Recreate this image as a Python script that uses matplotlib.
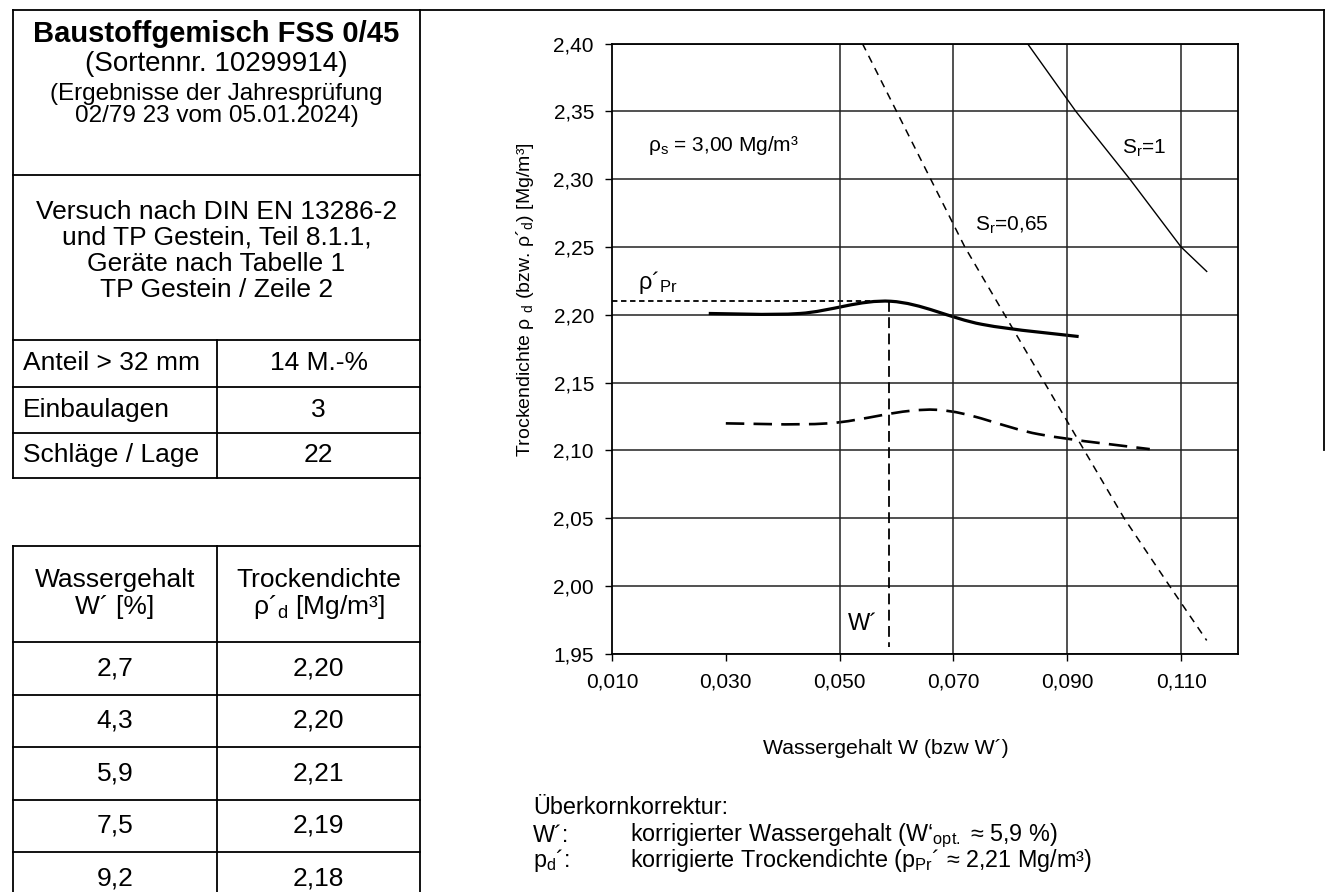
import numpy as np
import matplotlib.pyplot as plt
from matplotlib.path import Path
from matplotlib.patches import PathPatch

plt.rcParams['font.family'] = ['Liberation Sans', 'DejaVu Sans']
plt.rcParams['mathtext.fontset'] = 'custom'
plt.rcParams['mathtext.rm'] = 'Liberation Sans'
plt.rcParams['mathtext.it'] = 'Liberation Sans'

# --- data -------------------------------------------------------------
table_w = [2.7, 4.3, 5.9, 7.5, 9.2]          # W' [%]
table_rho = [2.20, 2.20, 2.21, 2.19, 2.18]   # rho'd [Mg/m3]

info_rows = ["Anteil > 32 mm", "Einbaulagen", "Schläge / Lage"]
info_vals = ["14 M.-%", "3", "22"]

# corrected curve (W', rho'd)
w_corr = [0.027, 0.043, 0.059, 0.075, 0.092]
rho_corr = [2.201, 2.201, 2.210, 2.193, 2.184]

# uncorrected curve (W, rho_d)
w_raw = [0.030, 0.048, 0.067, 0.085, 0.1045]
rho_raw = [2.120, 2.120, 2.130, 2.112, 2.101]

# saturation lines
w_sr1 = [0.083, 0.0915, 0.101, 0.110, 0.1145]
rho_sr1 = [2.400, 2.350, 2.300, 2.250, 2.232]
w_sr065 = [0.054, 0.060, 0.066, 0.072, 0.079, 0.086, 0.093, 0.100, 0.108, 0.1145]
rho_sr065 = [2.40, 2.35, 2.30, 2.25, 2.20, 2.15, 2.10, 2.05, 2.00, 1.96]

w_opt = 0.0587
rho_pr = 2.21

x_ticks = [0.010, 0.030, 0.050, 0.070, 0.090, 0.110]
x_grid = [0.050, 0.070, 0.090, 0.110]
y_ticks = [1.95, 2.00, 2.05, 2.10, 2.15, 2.20, 2.25, 2.30, 2.35, 2.40]


def comma(v, nd):
    return f"{v:.{nd}f}".replace('.', ',')


def smooth_path(x, y):
    """Bezier path through the points, like a smoothed spreadsheet line."""
    pts = np.column_stack([x, y])
    verts = [pts[0]]
    codes = [Path.MOVETO]
    n = len(pts)
    for i in range(n - 1):
        p0 = pts[i - 1] if i > 0 else pts[i]
        p1 = pts[i]
        p2 = pts[i + 1]
        p3 = pts[i + 2] if i + 2 < n else pts[i + 1]
        verts += [p1 + (p2 - p0) / 6, p2 - (p3 - p1) / 6, p2]
        codes += [Path.CURVE4] * 3
    return Path(verts, codes)


W, H = 1325, 892
fig = plt.figure(figsize=(W / 100, H / 100), dpi=100)

# --- background layer in pixel coordinates ----------------------------
bg = fig.add_axes([0, 0, 1, 1])
bg.set_xlim(0, W)
bg.set_ylim(H, 0)
bg.axis('off')

lk = dict(color='black', lw=1.3)
L, R, C = 13, 420, 217
MID = (L + R) / 2
bg.plot([L, 1324], [10, 10], **lk)
bg.plot([1324, 1324], [10, 450], **lk)
bg.plot([R, R], [10, H], **lk)
bg.plot([L, L], [10, 478], **lk)
for yy in [175, 340, 387, 433, 478]:
    bg.plot([L, R], [yy, yy], **lk)
bg.plot([C, C], [340, 478], **lk)

bg.text(MID, 34, "Baustoffgemisch FSS 0/45", ha='center', va='center',
        fontsize=21, fontweight='bold')
bg.text(MID, 64, "(Sortennr. 10299914)", ha='center', va='center', fontsize=20)
bg.text(MID, 94, "(Ergebnisse der Jahresprüfung", ha='center', va='center', fontsize=17.5)
bg.text(MID, 116, "02/79 23 vom 05.01.2024)", ha='center', va='center', fontsize=17.5)
for yy, line in zip([212, 238, 264, 290],
                    ["Versuch nach DIN EN 13286-2", "und TP Gestein, Teil 8.1.1,",
                     "Geräte nach Tabelle 1", "TP Gestein / Zeile 2"]):
    bg.text(MID, yy, line, ha='center', va='center', fontsize=19)
row_y = [363, 410, 455]
for yy, lab, val in zip(row_y, info_rows, info_vals):
    bg.text(L + 10, yy, lab, ha='left', va='center', fontsize=19)
    bg.text((C + R) / 2, yy, val, ha='center', va='center', fontsize=19)

# lower table
t_top, t_head = 546, 642
row_h = 52.5
bg.plot([L, L], [t_top, H], **lk)
bg.plot([C, C], [t_top, H], **lk)
bg.plot([L, R], [t_top, t_top], **lk)
bg.plot([L, R], [t_head, t_head], **lk)
for i in range(1, len(table_w)):
    yy = t_head + i * row_h
    bg.plot([L, R], [yy, yy], **lk)
bg.text((L + C) / 2, 580, "Wassergehalt", ha='center', va='center', fontsize=19)
bg.text((L + C) / 2, 607, "W´ [%]", ha='center', va='center', fontsize=19)
bg.text((C + R) / 2, 580, "Trockendichte", ha='center', va='center', fontsize=19)
bg.text((C + R) / 2, 607, r"ρ´$_\mathregular{d}$ [Mg/m³]", ha='center', va='center', fontsize=19)
for i, (wv, rv) in enumerate(zip(table_w, table_rho)):
    yy = t_head + (i + 0.5) * row_h
    bg.text((L + C) / 2, yy, comma(wv, 1), ha='center', va='center', fontsize=19)
    bg.text((C + R) / 2, yy, comma(rv, 2), ha='center', va='center', fontsize=19)

# notes below chart
nfs = 16.8
bg.text(533, 807, "Überkornkorrektur:", ha='left', va='center', fontsize=nfs)
bg.text(533, 836, "W´:", ha='left', va='center', fontsize=nfs)
bg.text(630, 836, r"korrigierter Wassergehalt (W‘$_\mathregular{opt.}$ ≈ 5,9 %)",
        ha='left', va='center', fontsize=nfs)
bg.text(533, 861, r"p$_\mathregular{d}$´:", ha='left', va='center', fontsize=nfs)
bg.text(630, 861, r"korrigierte Trockendichte (p$_\mathregular{Pr}$´ ≈ 2,21 Mg/m³)",
        ha='left', va='center', fontsize=nfs)

bg.text(886, 748, "Wassergehalt W (bzw W´)", ha='center', va='center', fontsize=15.3)
bg.text(525, 300, r"Trockendichte ρ $_\mathregular{d}$ (bzw. ρ´$_\mathregular{d}$) [Mg/m³]",
        ha='center', va='center', rotation=90, fontsize=14)

# --- chart ------------------------------------------------------------
ax = fig.add_axes([612 / W, 1 - 654 / H, 626 / W, 610.5 / H])
ax.set_xlim(0.01, 0.12)
ax.set_ylim(1.95, 2.40)
ax.set_xticks(x_ticks)
ax.set_xticklabels([comma(v, 3) for v in x_ticks])
ax.set_yticks(y_ticks)
ax.set_yticklabels([comma(v, 2) for v in y_ticks])
ax.tick_params(labelsize=15, length=5, width=1, direction='out', pad=8)
for s in ax.spines.values():
    s.set_linewidth(1.3)
ax.grid(axis='y', color='#222222', lw=1.1)
for gx in x_grid:
    ax.axvline(gx, color='#222222', lw=1.1)
ax.set_axisbelow(True)

ax.add_patch(PathPatch(smooth_path(w_corr, rho_corr), fill=False, ec='black', lw=2.3))
ax.add_patch(PathPatch(smooth_path(w_raw, rho_raw), fill=False, ec='black', lw=1.9,
                       linestyle=(0, (7, 3.5))))
ax.plot(w_sr1, rho_sr1, color='black', lw=1.0)
ax.plot(w_sr065, rho_sr065, color='black', lw=1.1, linestyle=(0, (5, 4)))
ax.plot([0.01, w_opt], [rho_pr, rho_pr], color='black', lw=1.3, linestyle=(0, (3, 2)))
ax.plot([w_opt, w_opt], [rho_pr, 1.955], color='black', lw=1.3, linestyle=(0, (6, 3)))

ax.text(0.0163, 2.325, r"ρ$_\mathregular{s}$ = 3,00 Mg/m³", ha='left', va='center', fontsize=15)
ax.text(0.0997, 2.323, r"S$_\mathregular{r}$=1", ha='left', va='center', fontsize=15)
ax.text(0.0737, 2.266, r"S$_\mathregular{r}$=0,65", ha='left', va='center', fontsize=15)
ax.text(0.0145, 2.224, r"ρ´$_\mathregular{Pr}$", ha='left', va='center', fontsize=17)
ax.text(0.0515, 1.972, "W´", ha='left', va='center', fontsize=17)

fig.savefig('out.png', dpi=100)
